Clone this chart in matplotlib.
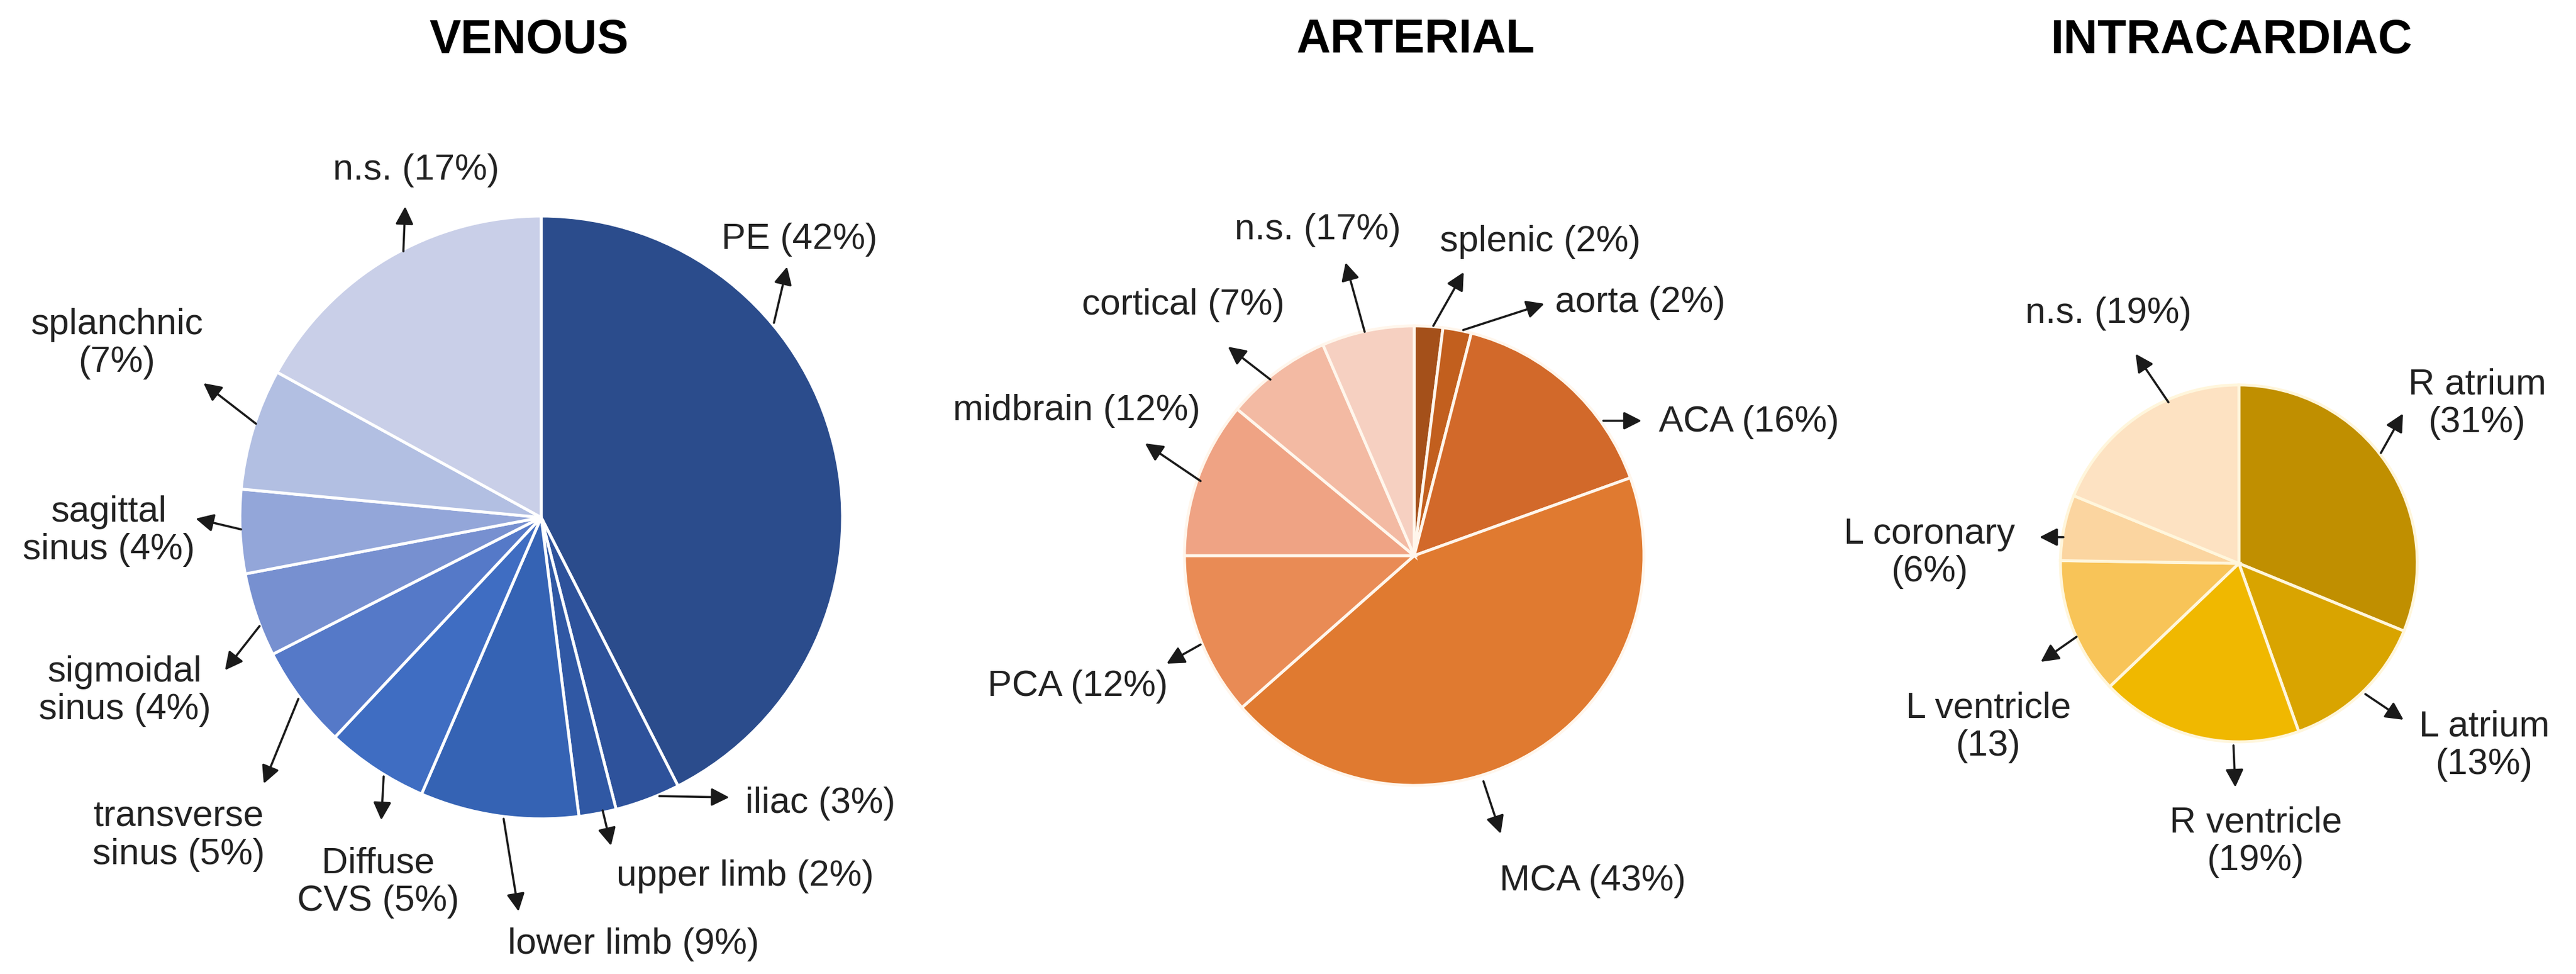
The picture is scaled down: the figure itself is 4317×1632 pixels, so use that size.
import matplotlib
matplotlib.use('Agg')
import matplotlib.pyplot as plt

plt.rcParams['font.family'] = ['Liberation Sans', 'DejaVu Sans']

W, H = 4317, 1633

# ---- data ----
venous_labels = ['PE (42%)', 'iliac (3%)', 'upper limb (2%)', 'lower limb (9%)',
                 'Diffuse\nCVS (5%)', 'transverse\nsinus (5%)', 'sigmoidal\nsinus (4%)',
                 'sagittal\nsinus (4%)', 'splanchnic\n(7%)', 'n.s. (17%)']
venous_values = [42.5, 3.5, 2, 8.5, 5.5, 5.5, 4.5, 4.5, 6.5, 17]
venous_colors = ['#2B4C8C', '#2E529B', '#3058A4', '#3563B4', '#3F6DC2',
                 '#5579C8', '#7790D0', '#93A6D9', '#B2BFE2', '#C9CFE8']

arterial_labels = ['splenic (2%)', 'aorta (2%)', 'ACA (16%)', 'MCA (43%)',
                   'PCA (12%)', 'midbrain (12%)', 'cortical (7%)', 'n.s. (17%)']
arterial_values = [2, 2, 15.5, 44, 11.5, 11, 7.5, 6.5]
arterial_colors = ['#A4501A', '#C25F1E', '#D2692A', '#E07A30',
                   '#E98B55', '#EFA384', '#F3BAA3', '#F6D0C1']

cardiac_labels = ['R atrium\n(31%)', 'L atrium\n(13%)', 'R ventricle\n(19%)',
                  'L ventricle\n(13)', 'L coronary\n(6%)', 'n.s. (19%)']
cardiac_values = [31.5, 13.5, 18.5, 12.5, 6, 19]
cardiac_colors = ['#C08F00', '#D9A400', '#F0B800', '#F8C458', '#FBD5A0', '#FDE2C2']

titles = ['VENOUS', 'ARTERIAL', 'INTRACARDIAC']

# ---- layout (pixels) ----
# pie centre x, centre y, radius, edge colour
pie_boxes = [(907, 868, 505, 'white'), (2370, 932, 385, '#FFF6EC'), (3752, 945, 299, '#FFF6DC')]
title_pos = [(887, 68), (2372, 68), (3740, 68)]

# label text (x, y, ha), arrow tail (x, y), arrow head (x, y)
venous_layout = [
    ((1340, 401, 'center'), (1297, 542), (1319, 448)),
    ((1249, 1347, 'left'), (1105, 1335), (1222, 1337)),
    ((1249, 1469, 'center'), (1010, 1359), (1024, 1418)),
    ((1062, 1583, 'center'), (844, 1373), (869, 1528)),
    ((634, 1479, 'center'), (643, 1302), (639, 1375)),
    ((299, 1401, 'center'), (500, 1172), (442, 1314)),
    ((209, 1158, 'center'), (435, 1050), (377, 1124)),
    ((182, 890, 'center'), (404, 888), (328, 870)),
    ((196, 576, 'center'), (429, 711), (341, 643)),
    ((697, 286, 'center'), (676, 422), (679, 347)),
]
arterial_layout = [
    ((2581, 406, 'center'), (2402, 547), (2453, 457)),
    ((2749, 508, 'center'), (2452, 554), (2588, 510)),
    ((2780, 708, 'left'), (2687, 706), (2751, 706)),
    ((2669, 1477, 'center'), (2486, 1310), (2515, 1398)),
    ((1806, 1151, 'center'), (2012, 1081), (1955, 1113)),
    ((1804, 689, 'center'), (2012, 807), (1919, 744)),
    ((1983, 512, 'center'), (2129, 637), (2058, 582)),
    ((2208, 385, 'center'), (2287, 557), (2255, 441)),
]
cardiac_layout = [
    ((4151, 677, 'center'), (3990, 760), (4027, 694)),
    ((4163, 1250, 'center'), (3964, 1164), (4028, 1207)),
    ((3780, 1411, 'center'), (3743, 1250), (3746, 1320)),
    ((3332, 1219, 'center'), (3480, 1068), (3420, 1110)),
    ((3234, 927, 'center'), (3458, 901), (3418, 901)),
    ((3533, 526, 'center'), (3634, 675), (3579, 594)),
]

fig = plt.figure(figsize=(W / 100, H / 100), dpi=100)
fig.patch.set_facecolor('white')

groups = [
    (venous_values, venous_colors),
    (arterial_values, arterial_colors),
    (cardiac_values, cardiac_colors),
]

for (values, colors), (cx, cy, r, edge) in zip(groups, pie_boxes):
    ax = fig.add_axes([(cx - r) / W, 1 - (cy + r) / H, 2 * r / W, 2 * r / H])
    ax.pie(values, colors=colors, startangle=90, counterclock=False,
           wedgeprops=dict(edgecolor=edge, linewidth=3.5))
    ax.set_xlim(-1.0, 1.0)
    ax.set_ylim(-1.0, 1.0)
    ax.axis('off')

# overlay in pixel coordinates for titles, labels and arrows
ov = fig.add_axes([0, 0, 1, 1])
ov.set_xlim(0, W)
ov.set_ylim(H, 0)
ov.axis('off')

for title, (tx, ty) in zip(titles, title_pos):
    ov.text(tx, ty, title, ha='center', va='center', fontsize=57,
            fontweight='bold', color='black')

all_labels = [venous_labels, arterial_labels, cardiac_labels]
all_layout = [venous_layout, arterial_layout, cardiac_layout]

for labels, layout in zip(all_labels, all_layout):
    for label, ((lx, ly, ha), tail, head) in zip(labels, layout):
        ov.text(lx, ly, label, ha=ha, va='center', fontsize=44,
                color='#222222', linespacing=1.15)
        ov.annotate('', xy=head, xytext=tail,
                    arrowprops=dict(arrowstyle='-|>,head_length=0.75,head_width=0.38',
                                    color='#1a1a1a', lw=2.6, mutation_scale=24,
                                    shrinkA=0, shrinkB=0))

fig.savefig('out.png', dpi=100, facecolor='white')
